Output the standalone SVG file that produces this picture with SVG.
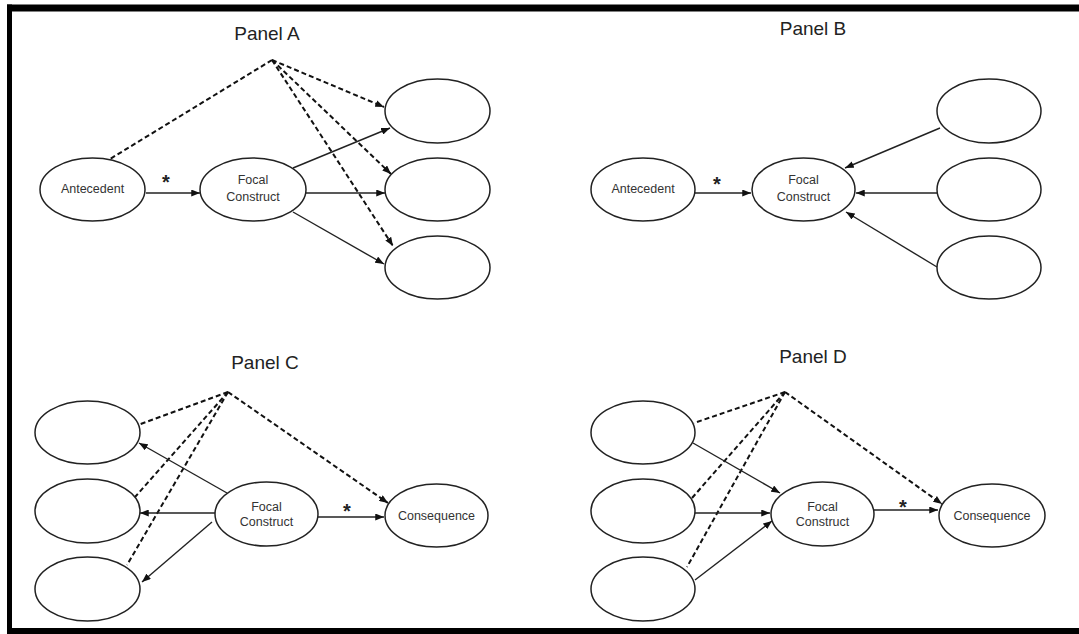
<svg xmlns="http://www.w3.org/2000/svg" width="1079" height="634" viewBox="0 0 1079 634">
<defs>
<style>
.n{fill:#fff;stroke:#222;stroke-width:1.5}
.t{font-family:"Liberation Sans",Arial,sans-serif;font-size:12.5px;fill:#333;text-anchor:middle}
.ti{font-family:"Liberation Sans",Arial,sans-serif;font-size:19px;fill:#222;text-anchor:middle}
.st{font-family:"Liberation Sans",Arial,sans-serif;font-size:20px;font-weight:bold;fill:#222;text-anchor:middle}
.s{stroke:#222;stroke-width:1.4;fill:none;marker-end:url(#ah)}
.d{stroke:#111;stroke-width:2;stroke-dasharray:5,3;fill:none}
.da{stroke:#111;stroke-width:2;stroke-dasharray:5,3;fill:none;marker-end:url(#ah)}
</style>
<marker id="ah" viewBox="0 0 10 8" refX="10" refY="4" markerWidth="9" markerHeight="7" orient="auto" markerUnits="userSpaceOnUse"><path d="M0,0 L10,4 L0,8 z" fill="#111"/></marker>
</defs>
<rect width="1079" height="634" fill="#fff"/>
<g id="frame" fill="#000">
<rect x="7" y="4.5" width="1072" height="7"/>
<rect x="7" y="4.5" width="5" height="629.5"/>
<rect x="7" y="628" width="1072" height="6"/>
</g>
<g id="titles">
<text class="ti" x="267" y="40">Panel A</text>
<text class="ti" x="813" y="35">Panel B</text>
<text class="ti" x="265" y="369">Panel C</text>
<text class="ti" x="813" y="363">Panel D</text>
</g>
<g id="connectors">
<path class="d" d="M272,60 L110,159"/>
<path class="da" d="M272,60 L384,107"/>
<path class="da" d="M272,60 L391,174"/>
<path class="da" d="M272,60 L393,246"/>
<path class="s" d="M146,193 L200,193"/>
<path class="s" d="M293,168 L390,128"/>
<path class="s" d="M306,193 L385,193"/>
<path class="s" d="M293,212 L384,264"/>
<path class="s" d="M695,193 L751,193"/>
<path class="s" d="M940,128 L845,168"/>
<path class="s" d="M937,193 L856,193"/>
<path class="s" d="M937,267 L846,212"/>
<path class="d" d="M228,392 L138,425"/>
<path class="d" d="M228,392 L135,497"/>
<path class="d" d="M228,392 L127,565"/>
<path class="da" d="M228,392 L388,503"/>
<path class="s" d="M227,493 L139,443"/>
<path class="s" d="M215,513 L140,513"/>
<path class="s" d="M212,522 L142,582"/>
<path class="s" d="M318,517 L384,517"/>
<path class="d" d="M785,392 L694,423"/>
<path class="d" d="M785,392 L692,498"/>
<path class="d" d="M785,392 L687,567"/>
<path class="da" d="M785,392 L942,504"/>
<path class="s" d="M693,443 L780,493"/>
<path class="s" d="M695,513 L770,513"/>
<path class="s" d="M695,580 L772,521"/>
<path class="s" d="M874,510 L938,510"/>
</g>
<g id="stars">
<text class="st" x="166" y="189">*</text>
<text class="st" x="717" y="191">*</text>
<text class="st" x="347" y="518">*</text>
<text class="st" x="903" y="514">*</text>
</g>
<g id="A-antecedent"><ellipse class="n" cx="92.5" cy="189.5" rx="52.5" ry="31.5"/><text class="t" x="92.5" y="193">Antecedent</text></g>
<g id="A-focal"><ellipse class="n" cx="253" cy="189.5" rx="53" ry="31.5"/><text class="t" x="253" y="184">Focal</text><text class="t" x="253" y="201">Construct</text></g>
<g id="A-out1"><ellipse class="n" cx="437.5" cy="111" rx="52.5" ry="32"/></g>
<g id="A-out2"><ellipse class="n" cx="437.5" cy="189.5" rx="52.5" ry="31.5"/></g>
<g id="A-out3"><ellipse class="n" cx="437.5" cy="267.5" rx="52.5" ry="31.5"/></g>
<g id="B-antecedent"><ellipse class="n" cx="643" cy="189.5" rx="52" ry="31.5"/><text class="t" x="643" y="193">Antecedent</text></g>
<g id="B-focal"><ellipse class="n" cx="803.5" cy="189.5" rx="51.5" ry="31.5"/><text class="t" x="803.5" y="184">Focal</text><text class="t" x="803.5" y="201">Construct</text></g>
<g id="B-in1"><ellipse class="n" cx="989" cy="111" rx="52" ry="32"/></g>
<g id="B-in2"><ellipse class="n" cx="989" cy="189.5" rx="52" ry="31.5"/></g>
<g id="B-in3"><ellipse class="n" cx="989" cy="267.5" rx="52" ry="31.5"/></g>
<g id="C-out1"><ellipse class="n" cx="87.5" cy="432.5" rx="52.5" ry="31.5"/></g>
<g id="C-out2"><ellipse class="n" cx="87.5" cy="511" rx="52.5" ry="32"/></g>
<g id="C-out3"><ellipse class="n" cx="87.5" cy="589" rx="52.5" ry="32"/></g>
<g id="C-focal"><ellipse class="n" cx="266.5" cy="514" rx="51.5" ry="32"/><text class="t" x="266.5" y="511">Focal</text><text class="t" x="266.5" y="526">Construct</text></g>
<g id="C-consequence"><ellipse class="n" cx="436.5" cy="515.5" rx="51.5" ry="31.5"/><text class="t" x="436.5" y="520">Consequence</text></g>
<g id="D-in1"><ellipse class="n" cx="643" cy="432.5" rx="52" ry="31.5"/></g>
<g id="D-in2"><ellipse class="n" cx="643" cy="511" rx="52" ry="32"/></g>
<g id="D-in3"><ellipse class="n" cx="643" cy="589" rx="52" ry="32"/></g>
<g id="D-focal"><ellipse class="n" cx="822.5" cy="514" rx="51.5" ry="32"/><text class="t" x="822.5" y="511">Focal</text><text class="t" x="822.5" y="526">Construct</text></g>
<g id="D-consequence"><ellipse class="n" cx="992" cy="515.5" rx="53" ry="31.5"/><text class="t" x="992" y="520">Consequence</text></g>
</svg>
